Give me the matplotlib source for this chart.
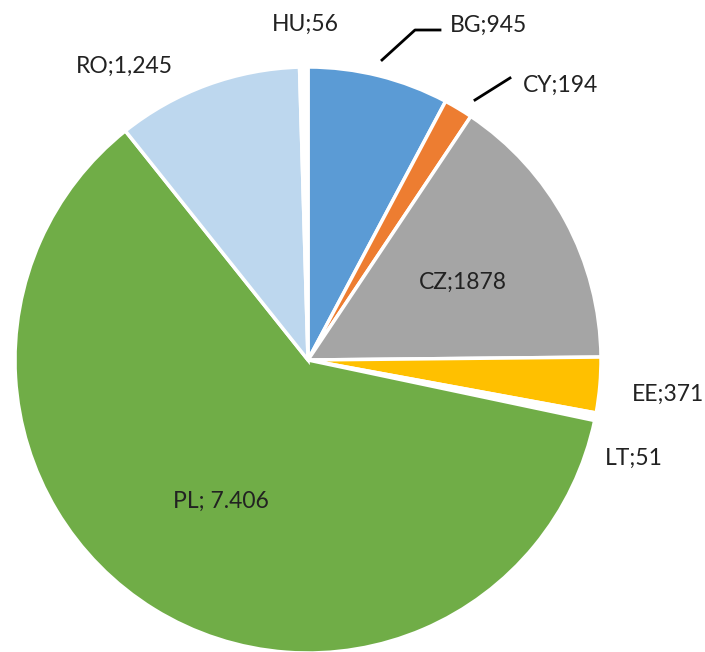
import matplotlib
matplotlib.use("Agg")
import matplotlib.pyplot as plt

countries = ["BG", "CY", "CZ", "EE", "LT", "PL", "RO", "HU"]
values = [945, 194, 1878, 371, 51, 7406, 1245, 56]
labels = ["BG;945", "CY;194", "CZ;1878", "EE;371", "LT;51", "PL; 7.406", "RO;1,245", "HU;56"]
colors = ["#5b9bd5", "#ed7d31", "#a5a5a5", "#ffc000", "#ffffff", "#70ad47", "#bdd7ee", "#ffffff"]

plt.rcParams["font.family"] = ["Lato", "DejaVu Sans"]

fig = plt.figure(figsize=(7.05, 6.52), dpi=100)
ax = fig.add_axes([0, 0, 1, 1])

cx, cy, r = 308, 652 - 360, 293
ax.pie(values, colors=colors, startangle=90, counterclock=False,
       center=(cx, cy), radius=r, frame=True,
       wedgeprops=dict(edgecolor="white", linewidth=2.5))
ax.set_xlim(0, 705)
ax.set_ylim(0, 652)
ax.set_aspect("equal")
ax.axis("off")

# label centres in pixels (y from top)
label_pos = {
    "BG": (489, 25), "CY": (560, 85), "CZ": (463, 282), "EE": (668, 394),
    "LT": (634, 458), "PL": (221, 501), "RO": (124, 66), "HU": (305, 24),
}
for c, lab in zip(countries, labels):
    x, y = label_pos[c]
    ax.text(x, 652 - y, lab, ha="center", va="center", fontsize=16.5, color="#222222")

# leader lines for the small slices
ax.plot([382, 415, 440], [652 - 60, 652 - 30, 652 - 30], color="black", lw=2)
ax.plot([475, 510], [652 - 100, 652 - 78], color="black", lw=2)

fig.savefig("out.png", dpi=100)
